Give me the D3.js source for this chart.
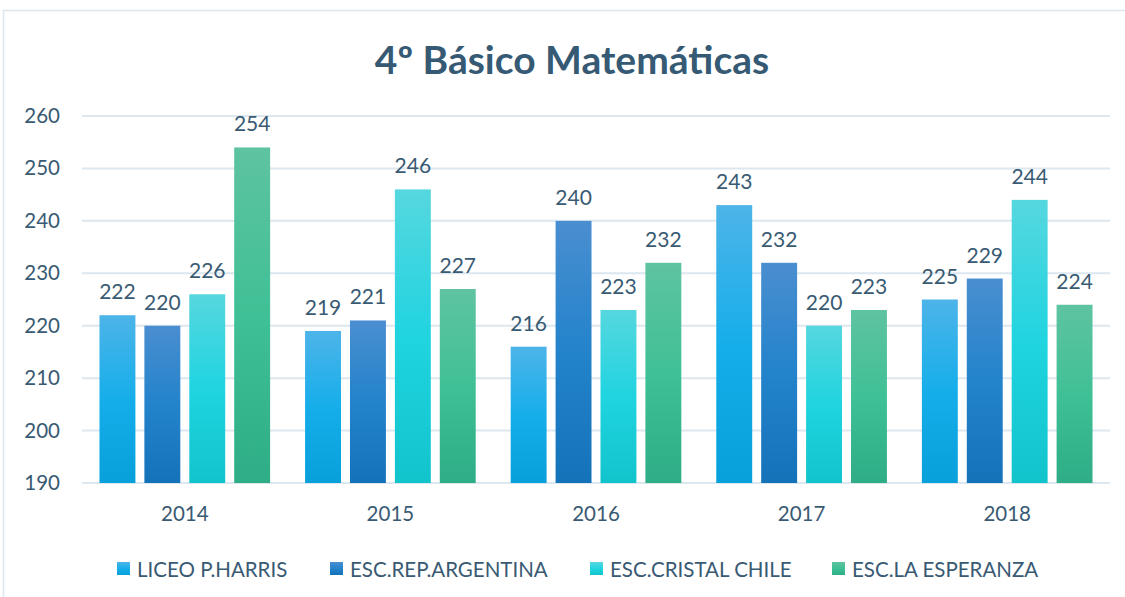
<!DOCTYPE html>
<html><head><meta charset="utf-8">
<script src="https://cdn.jsdelivr.net/npm/d3@7"></script>
<style>body{margin:0;background:#fff;}svg{display:block;font-family:Lato,"Open Sans",sans-serif;}</style>
</head><body><svg id="c" width="1125" height="597"></svg>
<script>
const years = ["2014","2015","2016","2017","2018"];
const seriesNames = ["LICEO P.HARRIS","ESC.REP.ARGENTINA","ESC.CRISTAL CHILE","ESC.LA ESPERANZA"];
const liceo = [222,219,216,243,225];
const argentina = [220,221,240,232,229];
const cristal = [226,246,223,220,244];
const esperanza = [254,227,232,223,224];
const yTicks = [190,200,210,220,230,240,250,260];
const title = "4º Básico Matemáticas";

const seriesValues = [liceo, argentina, cristal, esperanza];
const grads = [
  ["#4DB4E9","#16AEEA","#07A0DB"],
  ["#4A8ED0","#2383CB","#1472B9"],
  ["#56D7DF","#20D4E0","#11C4CC"],
  ["#5EC3A1","#40C096","#2EAD86"]
];
const textColor = "#395A73";
const svg = d3.select("#c");
const defs = svg.append("defs");
grads.forEach((g,i)=>{
  const lg = defs.append("linearGradient").attr("id","g"+i).attr("x1",0).attr("y1",0).attr("x2",0).attr("y2",1);
  lg.append("stop").attr("offset","0%").attr("stop-color",g[0]);
  lg.append("stop").attr("offset","50%").attr("stop-color",g[1]);
  lg.append("stop").attr("offset","100%").attr("stop-color",g[2]);
});

// outer frame
svg.append("rect").attr("x",3.5).attr("y",10.5).attr("width",1130).attr("height",600)
  .attr("fill","#fff").attr("stroke","#DCE6EE").attr("stroke-width",1.5);

const L=82, R=1110, T=116, B=483;
const x = d3.scaleBand().domain(years).range([L,R]).paddingInner(0.17).paddingOuter(0.085);
const xs = d3.scaleBand().domain(d3.range(4)).range([0,x.bandwidth()]).paddingInner(0.2);
const y = d3.scaleLinear().domain([190,260]).range([B,T]);

// gridlines
svg.append("g").selectAll("line").data(yTicks).join("line")
  .attr("x1",L).attr("x2",R).attr("y1",d=>y(d)).attr("y2",d=>y(d))
  .attr("stroke","#DCE7F0").attr("stroke-width",2);

// y axis labels
const yAxis = d3.axisLeft(y).tickValues(yTicks).tickSize(0).tickPadding(0);
const ya = svg.append("g").attr("transform",`translate(60,0)`).call(yAxis);
ya.select(".domain").remove();
ya.selectAll("text").attr("fill",textColor).attr("font-size",20.5).attr("font-family","Lato,'Open Sans',sans-serif");

// bars
seriesValues.forEach((vals,si)=>{
  const g = svg.append("g");
  g.selectAll("rect").data(vals).join("rect")
    .attr("x",(d,i)=>x(years[i])+xs(si))
    .attr("width",xs.bandwidth())
    .attr("y",d=>y(d))
    .attr("height",d=>B-y(d))
    .attr("fill",`url(#g${si})`);
  g.selectAll("text").data(vals).join("text")
    .attr("x",(d,i)=>x(years[i])+xs(si)+xs.bandwidth()/2)
    .attr("y",d=>y(d)-16)
    .attr("text-anchor","middle")
    .attr("fill",textColor).attr("font-size",21)
    .text(d=>d);
});

// x axis labels
const xAxis = d3.axisBottom(x).tickSize(0).tickPadding(0);
const xa = svg.append("g").attr("transform",`translate(0,${B+23})`).call(xAxis);
xa.select(".domain").remove();
xa.selectAll("text").attr("fill",textColor).attr("font-size",20.5).attr("font-family","Lato,'Open Sans',sans-serif");

// title
svg.append("text").attr("x",572).attr("y",74).attr("text-anchor","middle")
  .attr("fill","#365A74").attr("font-size",39).attr("font-weight","bold").text(title);

// legend
const legX = [117,330,590,832];
const lg = svg.append("g");
seriesNames.forEach((n,i)=>{
  lg.append("rect").attr("x",legX[i]).attr("y",562).attr("width",13).attr("height",13).attr("fill",`url(#g${i})`);
  lg.append("text").attr("x",legX[i]+20).attr("y",577).attr("fill",textColor).attr("font-size",20.5).text(n);
});
</script></body></html>
